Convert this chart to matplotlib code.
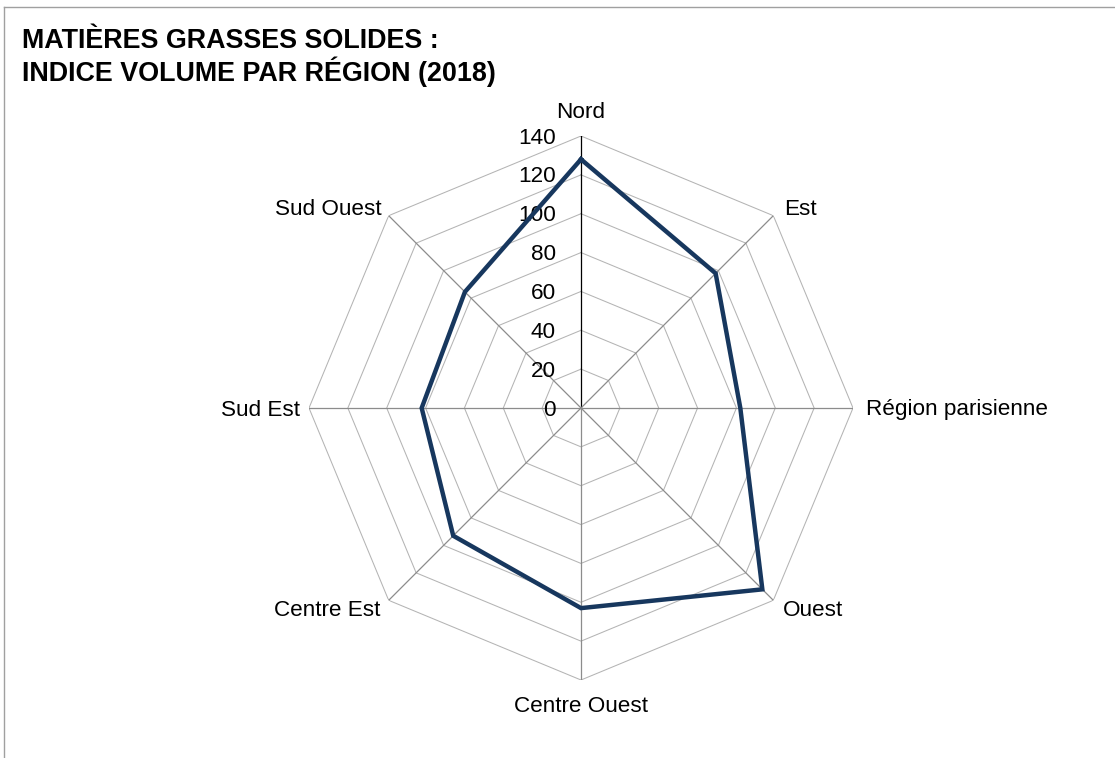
import numpy as np
import matplotlib.pyplot as plt
from matplotlib.lines import Line2D

plt.rcParams['font.family'] = ['Liberation Sans', 'DejaVu Sans']

regions = ['Nord', 'Est', 'Région parisienne', 'Ouest', 'Centre Ouest',
           'Centre Est', 'Sud Est', 'Sud Ouest']
indice = [128, 98, 82, 132, 103, 93, 82, 84.5]
ticks = [0, 20, 40, 60, 80, 100, 120, 140]
title = 'MATIÈRES GRASSES SOLIDES :\nINDICE VOLUME PAR RÉGION (2018)'

# label placement (pixel offsets from the outer corner)
label_pos = {
    'Nord': (0, 23, 'center'),
    'Est': (11, 6, 'left'),
    'Région parisienne': (13, -2, 'left'),
    'Ouest': (10, -10, 'left'),
    'Centre Ouest': (0, -26, 'center'),
    'Centre Est': (-8, -10, 'right'),
    'Sud Est': (-9, -2, 'right'),
    'Sud Ouest': (-7, 6, 'right'),
}

fig = plt.figure(figsize=(11.15, 7.58), dpi=100)
W, H = 1115, 758
cx, cy, R = 581, 408, 272
ax = fig.add_axes([(cx - R) / W, (H - cy - R) / H, 2 * R / W, 2 * R / H],
                  projection='polar')
ax.set_theta_zero_location('N')
ax.set_theta_direction(-1)
ax.set_ylim(0, 140)
ax.grid(False)
ax.spines['polar'].set_visible(False)
ax.set_xticks([])
ax.set_yticks([])
ax.patch.set_alpha(0)

n = len(regions)
theta = np.arange(n) * 2 * np.pi / n
theta_c = np.append(theta, theta[0])

# polygon grid
for t in ticks[1:]:
    ax.plot(theta_c, [t] * (n + 1), color='#b4b4b4', lw=0.75, zorder=1)
# spokes
for i, th in enumerate(theta):
    col = 'black' if i == 0 else '#8c8c8c'
    ax.plot([th, th], [0, 140], color=col, lw=0.9, zorder=2)

# radial tick labels
for t in ticks:
    ax.annotate(str(t), xy=(0, t), xytext=(-25, -2), textcoords='offset pixels',
                ha='right', va='center', fontsize=16.2, color='black')

# category labels
for th, name in zip(theta, regions):
    dx, dy, ha = label_pos[name]
    ax.annotate(name, xy=(th, 140), xytext=(dx, dy), textcoords='offset pixels',
                ha=ha, va='center', fontsize=16.2, color='black',
                annotation_clip=False)

vals = indice + [indice[0]]
ax.plot(theta_c, vals, color='#17375E', lw=3.2, zorder=5, solid_joinstyle='miter')

fig.text(22 / W, 1 - 28 / H, title, ha='left', va='top', fontsize=19.4,
         fontweight='bold', linespacing=1.1)

# chart frame
fig.add_artist(Line2D([4 / W, 4 / W], [0, 1 - 7 / H], color='#a0a0a0', lw=1))
fig.add_artist(Line2D([4 / W, 1], [1 - 7 / H, 1 - 7 / H], color='#a0a0a0', lw=1))

fig.savefig('out.png', dpi=100)
